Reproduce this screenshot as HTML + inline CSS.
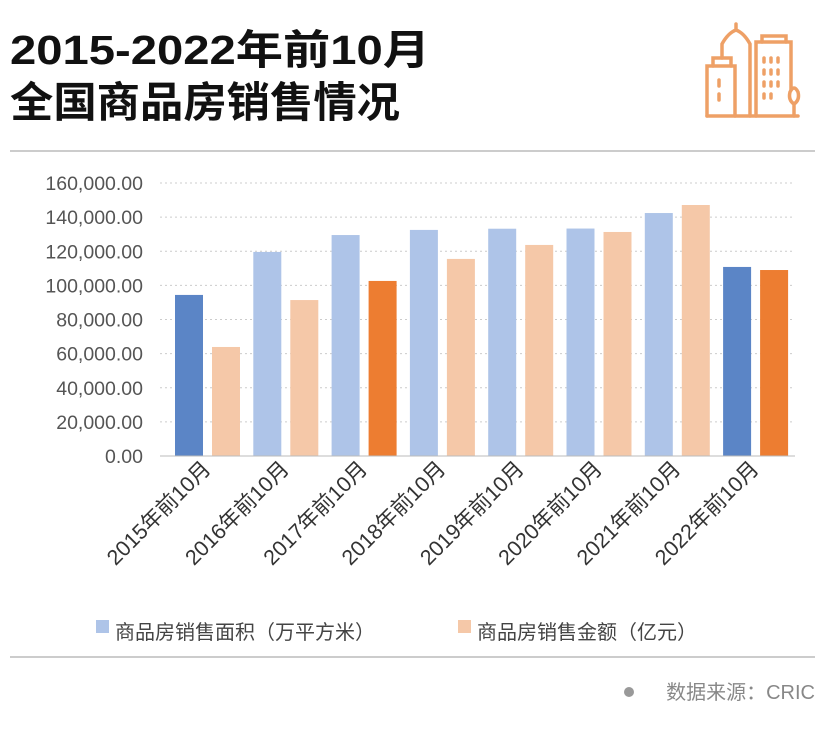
<!DOCTYPE html>
<html><head><meta charset="utf-8"><style>
body{margin:0;background:#fff;width:830px;height:735px;overflow:hidden;font-family:"Liberation Sans","Noto Sans CJK SC",sans-serif;}
</style></head><body>
<svg width="830" height="735" xmlns="http://www.w3.org/2000/svg">
<text x="10" y="64" font-size="41" font-weight="bold" fill="#111" textLength="420" lengthAdjust="spacingAndGlyphs" font-family="Liberation Sans,Noto Sans CJK SC,sans-serif">2015-2022年前10月</text>
<text x="10" y="117" font-size="42" font-weight="bold" fill="#111" textLength="390" lengthAdjust="spacingAndGlyphs" font-family="Liberation Sans,Noto Sans CJK SC,sans-serif">全国商品房销售情况</text>
<g stroke="#eea066" stroke-width="3.5" fill="none" stroke-linecap="round">
<line x1="707" y1="116" x2="798" y2="116"/>
<path d="M707 116 V66 H735 V116"/>
<path d="M713 66 V58 H731 V66"/>
<path d="M722 58 V44 Q728 33 736 30 Q744 33 750 44 V116"/>
<line x1="736" y1="24" x2="736" y2="30"/>
<path d="M756 116 V42 H791 V90"/>
<path d="M762 42 V36 H786 V42"/>
<line x1="719" y1="80" x2="719" y2="86"/><line x1="719" y1="94" x2="719" y2="100"/>
<line x1="764" y1="58" x2="764" y2="62"/><line x1="771" y1="58" x2="771" y2="62"/><line x1="778" y1="58" x2="778" y2="62"/>
<line x1="764" y1="70" x2="764" y2="74"/><line x1="771" y1="70" x2="771" y2="74"/><line x1="778" y1="70" x2="778" y2="74"/>
<line x1="764" y1="82" x2="764" y2="86"/><line x1="771" y1="82" x2="771" y2="86"/><line x1="778" y1="82" x2="778" y2="86"/>
<line x1="764" y1="94" x2="764" y2="98"/><line x1="771" y1="94" x2="771" y2="98"/>
<path d="M794 116 V104 M794 104 Q788 100 790 92 Q794 84 798 92 Q800 100 794 104"/>
</g>
<line x1="10" y1="151" x2="815" y2="151" stroke="#999" stroke-width="1"/>
<g id="grid"></g><g id="bars"></g><g id="labels"></g>
<line x1="160" y1="456" x2="795" y2="456" stroke="#bbb" stroke-width="1"/>
<rect x="96" y="620" width="13" height="13" fill="#aec4e8"/>
<text x="115" y="639" font-size="20" fill="#444">商品房销售面积（万平方米）</text>
<rect x="458" y="620" width="13" height="13" fill="#f5c8a8"/>
<text x="477" y="639" font-size="20" fill="#444">商品房销售金额（亿元）</text>
<line x1="10" y1="657" x2="815" y2="657" stroke="#999" stroke-width="1"/>
<circle cx="629" cy="692" r="5" fill="#999"/>
<text x="815" y="699" font-size="20" fill="#888" text-anchor="end">数据来源：CRIC</text>
</svg>
<script>
const categories=["2015年前10月","2016年前10月","2017年前10月","2018年前10月","2019年前10月","2020年前10月","2021年前10月","2022年前10月"];
const areaValues=[94400,119600,129500,132500,133200,133300,142400,110800];
const amountValues=[63900,91400,102600,115500,123700,131300,147100,109000];
const areaHighlight=[true,false,false,false,false,false,false,true];
const amountHighlight=[false,false,true,false,false,false,false,true];
const yTicks=[0,20000,40000,60000,80000,100000,120000,140000,160000];
const NS="http://www.w3.org/2000/svg";
const y=v=>456-v/160000*273;
const cx=i=>160+78.3*i;
function mk(t,a,p){const e=document.createElementNS(NS,t);for(const k in a)e.setAttribute(k,a[k]);document.getElementById(p).appendChild(e);return e;}
yTicks.forEach(v=>{
 if(v>0){const l=mk('line',{x1:160,x2:795,y1:y(v),y2:y(v),stroke:'#ccc','stroke-dasharray':'2,3'},'grid');
 
 }
 const t=mk('text',{x:143,y:y(v)+7,'font-size':19.5,fill:'#555','text-anchor':'end'},'labels');
 t.textContent=v.toLocaleString('en-US',{minimumFractionDigits:2});
 
 
});
categories.forEach((c,i)=>{
 const a=mk('rect',{x:cx(i)+15,y:y(areaValues[i]),width:28,height:456-y(areaValues[i]),fill:areaHighlight[i]?'#5b85c6':'#aec4e8'},'bars');
 
 
 const b=mk('rect',{x:cx(i)+52,y:y(amountValues[i]),width:28,height:456-y(amountValues[i]),fill:amountHighlight[i]?'#ed7d31':'#f5c8a8'},'bars');
 
 
 const px=cx(i)+52,py=470;
 const t=mk('text',{x:px,y:py,'font-size':21.5,fill:'#333','text-anchor':'end',transform:`rotate(-45 ${px} ${py})`},'labels');
 t.textContent=c;
 
 
});
</script>
</body></html>
